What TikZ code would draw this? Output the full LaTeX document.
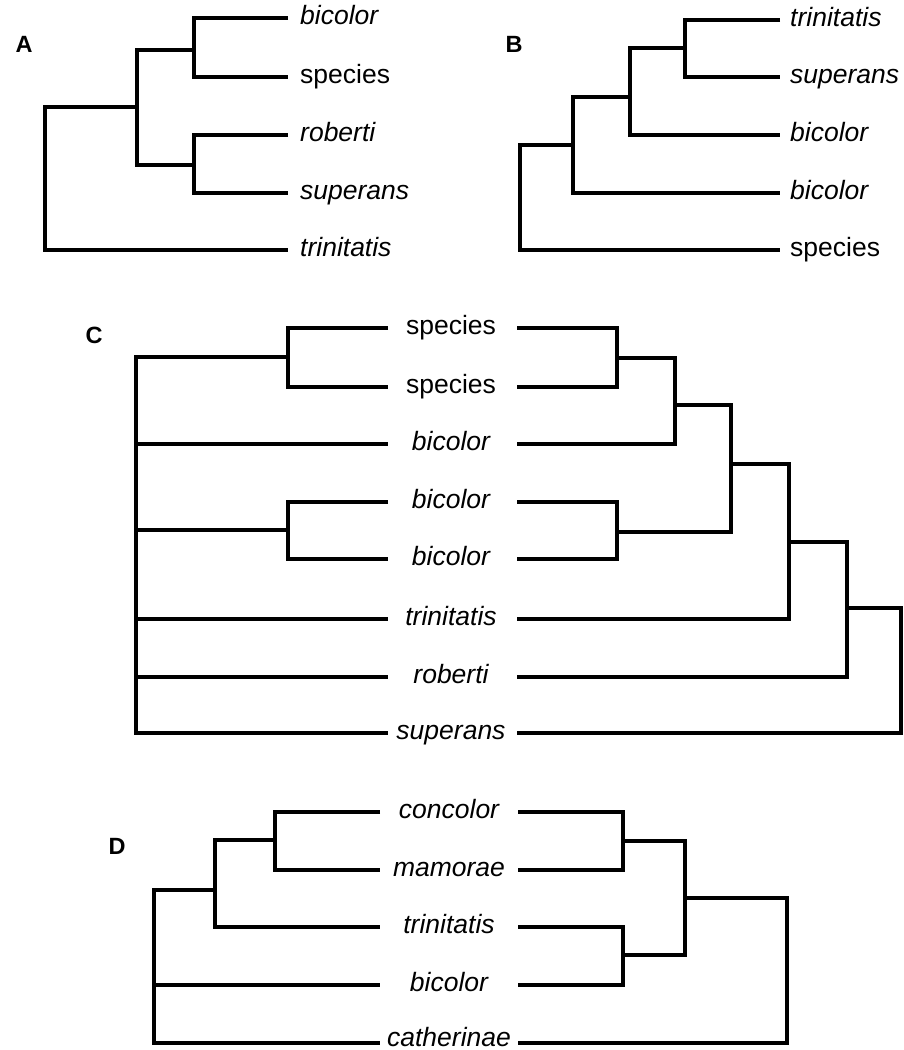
\documentclass[tikz,border=0pt]{standalone}
\usepackage{fontspec}
\setmainfont{Liberation Sans}
\begin{document}
\begin{tikzpicture}[x=1pt,y=-1pt,
  br/.style={line width=4.5pt, line join=miter, line cap=butt},
  taxon/.style={font=\fontsize{26.5}{30}\selectfont, inner sep=0pt, text height=19pt, text depth=5.5pt},
  it/.style={taxon, font=\fontsize{26.5}{30}\selectfont\itshape},
  panel/.style={font=\fontsize{23.5}{27}\selectfont\bfseries, inner sep=0pt}]
\useasboundingbox (0,0) rectangle (904,1050);

% ---------------- Panel A
\node[panel] (labA) at (24,44) {A};
\node[it, anchor=west] (A1) at (300,18) {bicolor};
\node[taxon, anchor=west] (A2) at (300,77) {species};
\node[it, anchor=west] (A3) at (300,135) {roberti};
\node[it, anchor=west] (A4) at (300,193) {superans};
\node[it, anchor=west] (A5) at (300,250) {trinitatis};
\coordinate (a1) at (288,18);
\coordinate (a2) at (288,77);
\coordinate (a3) at (288,135);
\coordinate (a4) at (288,193);
\coordinate (a5) at (288,250);
\coordinate (nA1) at (194,50);
\coordinate (nA2) at (194,165);
\coordinate (nA3) at (137,107);
\coordinate (rA) at (45,180);
\draw[br] (a1) -| (nA1) |- (a2);
\draw[br] (a3) -| (nA2) |- (a4);
\draw[br] (nA1) -| (nA3) |- (nA2);
\draw[br] (nA3) -| (rA) |- (a5);

% ---------------- Panel B
\node[panel] (labB) at (514,44) {B};
\node[it, anchor=west] (B1) at (790,20) {trinitatis};
\node[it, anchor=west] (B2) at (790,77) {superans};
\node[it, anchor=west] (B3) at (790,135) {bicolor};
\node[it, anchor=west] (B4) at (790,193) {bicolor};
\node[taxon, anchor=west] (B5) at (790,250) {species};
\coordinate (b1) at (780,20);
\coordinate (b2) at (780,77);
\coordinate (b3) at (780,135);
\coordinate (b4) at (780,193);
\coordinate (b5) at (780,250);
\coordinate (nB1) at (685,48);
\coordinate (nB2) at (630,97);
\coordinate (nB3) at (573,145);
\coordinate (rB) at (520,200);
\draw[br] (b1) -| (nB1) |- (b2);
\draw[br] (nB1) -| (nB2) |- (b3);
\draw[br] (nB2) -| (nB3) |- (b4);
\draw[br] (nB3) -| (rB) |- (b5);

% ---------------- Panel C
\node[panel] (labC) at (94,335) {C};
\node[taxon] (C1) at (451,328) {species};
\node[taxon] (C2) at (451,387) {species};
\node[it] (C3) at (451,444) {bicolor};
\node[it] (C4) at (451,502) {bicolor};
\node[it] (C5) at (451,559) {bicolor};
\node[it] (C6) at (451,619) {trinitatis};
\node[it] (C7) at (451,677) {roberti};
\node[it] (C8) at (451,733) {superans};
\foreach \i/\y in {1/328,2/387,3/444,4/502,5/559,6/619,7/677,8/733}{
  \coordinate (cl\i) at (388,\y);
  \coordinate (cr\i) at (517,\y);
}
% left tree
\coordinate (nCL1) at (288,357);
\coordinate (nCL2) at (288,530);
\coordinate (rCL) at (136,545);
\draw[br] (cl1) -| (nCL1) |- (cl2);
\draw[br] (cl4) -| (nCL2) |- (cl5);
\draw[br] (nCL1) -| (rCL) |- (cl8);
\draw[br] (rCL |- cl3) -- (cl3);
\draw[br] (rCL |- nCL2) -- (nCL2);
\draw[br] (rCL |- cl6) -- (cl6);
\draw[br] (rCL |- cl7) -- (cl7);
% right tree
\coordinate (nCR1) at (617,358);
\coordinate (nCR2) at (675,405);
\coordinate (nCR3) at (617,532);
\coordinate (nCR4) at (731,464);
\coordinate (nCR5) at (789,542);
\coordinate (nCR6) at (847,608);
\coordinate (rCR) at (901,680);
\draw[br] (cr1) -| (nCR1) |- (cr2);
\draw[br] (nCR1) -| (nCR2) |- (cr3);
\draw[br] (cr4) -| (nCR3) |- (cr5);
\draw[br] (nCR2) -| (nCR4) |- (nCR3);
\draw[br] (nCR4) -| (nCR5) |- (cr6);
\draw[br] (nCR5) -| (nCR6) |- (cr7);
\draw[br] (nCR6) -| (rCR) |- (cr8);

% ---------------- Panel D
\node[panel] (labD) at (117,846) {D};
\node[it] (D1) at (449,812) {concolor};
\node[it] (D2) at (449,870) {mamorae};
\node[it] (D3) at (449,927) {trinitatis};
\node[it] (D4) at (449,985) {bicolor};
\node[it, text depth=0pt] (D5) at (449,1037) {catherinae};
\foreach \i/\y in {1/812,2/870,3/927,4/985,5/1043}{
  \coordinate (dl\i) at (380,\y);
  \coordinate (dr\i) at (518,\y);
}
\coordinate (nDL1) at (275,840);
\coordinate (nDL2) at (215,890);
\coordinate (rDL) at (154,960);
\draw[br] (dl1) -| (nDL1) |- (dl2);
\draw[br] (nDL1) -| (nDL2) |- (dl3);
\draw[br] (nDL2) -| (rDL) |- (dl5);
\draw[br] (rDL |- dl4) -- (dl4);
\coordinate (nDR1) at (623,841);
\coordinate (nDR2) at (623,955);
\coordinate (nDR3) at (685,898);
\coordinate (rDR) at (787,970);
\draw[br] (dr1) -| (nDR1) |- (dr2);
\draw[br] (dr3) -| (nDR2) |- (dr4);
\draw[br] (nDR1) -| (nDR3) |- (nDR2);
\draw[br] (nDR3) -| (rDR) |- (dr5);
\end{tikzpicture}
\end{document}
